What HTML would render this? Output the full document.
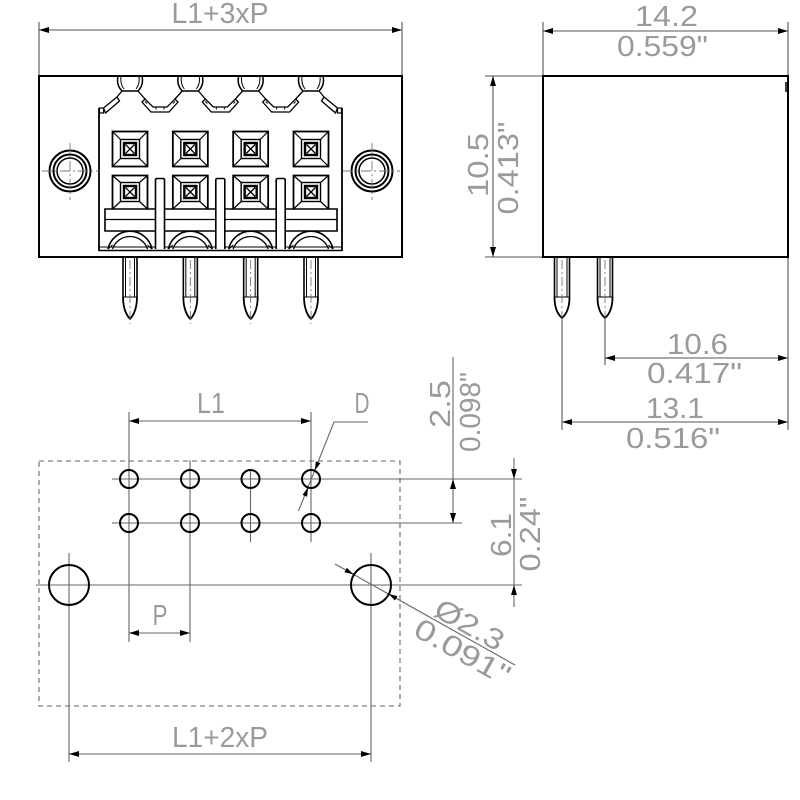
<!DOCTYPE html>
<html><head><meta charset="utf-8"><style>
html,body{margin:0;padding:0;background:#fff;}
svg{display:block;}
text{font-family:"Liberation Sans",sans-serif;font-size:29px;fill:#9a9a9a;}
</style></head><body>
<svg width="800" height="800" viewBox="0 0 800 800" xmlns="http://www.w3.org/2000/svg">
<defs>
<marker id="ar" viewBox="0 0 10 6" refX="10" refY="3" markerWidth="10" markerHeight="6" markerUnits="userSpaceOnUse" orient="auto-start-reverse"><path d="M0,0L10,3L0,6z" fill="#000"/></marker>
<g id="term" fill="none" stroke="#000">
  <rect x="112.5" y="131.5" width="35" height="35" stroke-width="1.8"/>
  <rect x="120.5" y="139.5" width="19" height="19" stroke-width="1.4"/>
  <rect x="124" y="143" width="12" height="12" stroke-width="2.4"/>
  <path d="M112.5,131.5L120.5,139.5M147.5,131.5L139.5,139.5M112.5,166.5L120.5,158.5M147.5,166.5L139.5,158.5" stroke-width="1.2"/>
  <path d="M125.5,144.5L134.5,153.5M134.5,144.5L125.5,153.5" stroke-width="1.3"/>
  <path d="M112.5,209V175.5H147.5V209" stroke-width="1.8"/>
  <rect x="120.5" y="182.5" width="19" height="19" stroke-width="1.4"/>
  <rect x="124" y="186" width="12" height="12" stroke-width="2.4"/>
  <path d="M112.5,175.5L120.5,182.5M147.5,175.5L139.5,182.5M112.5,209L120.5,201.5M147.5,209L139.5,201.5" stroke-width="1.2"/>
  <path d="M125.5,187.5L134.5,196.5M134.5,187.5L125.5,196.5" stroke-width="1.3"/>
  <path d="M108,249A22.5,22.5 0 0 1 152,249" stroke-width="1.6"/>
  <path d="M112.5,249A18.5,18.5 0 0 1 147.5,249" stroke-width="1.3"/>
  <path d="M108,249L112.5,245M152,249L147.5,245" stroke-width="1"/>
  <path d="M118,76Q116,85 122,91L138,91Q144,85 142,76" stroke-width="1.5"/>
  <path d="M121,76Q120,84 124,89M139,76Q140,84 136,89" stroke-width="1"/>
  <path d="M123,257V297M137,257V297" stroke-width="1.6"/>
  <path d="M125.5,257V297M134.5,257V297M123,297H137" stroke-width="1"/>
  <path d="M123,297C123,309 127,316 130,319C133,316 137,309 137,297" stroke-width="1.8"/>
  <path d="M130,260V324" stroke="#666" stroke-width="0.8" stroke-dasharray="9,3,2,3"/>
</g>
<g id="ushape" fill="none" stroke="#000" stroke-width="1.3">
  <path d="M138,91L145,99M175,99L182.3,91"/>
  <polygon points="145,99 153,107 167,107 175,99 178,102 169,112 151,112 142,102" fill="#fff"/>
  <path d="M147,103.5L145,101.5M173,103.5L175,101.5M156,109.5V107.5M164,109.5V107.5" stroke-width="1"/>
</g>
<g id="spin" fill="none" stroke="#000">
  <path d="M554.5,257V297M569.5,257V297" stroke-width="1.6"/>
  <path d="M557,257V297M567,257V297M554.5,297H569.5" stroke-width="1"/>
  <path d="M554.5,297C554.5,309 558.5,315 562,318C565.5,315 569.5,309 569.5,297" stroke-width="1.8"/>
  <path d="M562,260V322" stroke="#666" stroke-width="0.8" stroke-dasharray="9,3,2,3"/>
</g>
</defs>
<rect width="800" height="800" fill="#fff"/>

<g stroke="#555" stroke-width="1.1" fill="none">
  <path d="M39,22V76M402,22V76"/>
  <line x1="39" y1="30" x2="402" y2="30" marker-start="url(#ar)" marker-end="url(#ar)"/>
</g>
<text x="220" y="23" text-anchor="middle" textLength="97" lengthAdjust="spacingAndGlyphs">L1+3xP</text>

<rect x="39" y="76" width="363" height="181" fill="none" stroke="#000" stroke-width="2"/>
<g fill="none" stroke="#000">
  <path d="M99,108V251M342,108V251" stroke-width="1.8"/>
  <path d="M99,250.5H342" stroke-width="1.5"/>
  <path d="M99,247H342" stroke-width="1"/>
  <rect x="99.5" y="108" width="4" height="5" stroke-width="1.2"/>
  <path d="M122,91L117,97" stroke-width="1.3"/>
  <polygon points="103.5,108 117,97 119.5,101 105.5,113" fill="#fff" stroke-width="1.3"/>
  <rect x="337.5" y="108" width="4" height="5" stroke-width="1.2"/>
  <path d="M319,91L324,97" stroke-width="1.3"/>
  <polygon points="337.5,108 324,97 321.5,101 335.5,113" fill="#fff" stroke-width="1.3"/>
  <path d="M105,209H337V231H105Z" stroke-width="1.6"/>
  <path d="M105,219.5H337" stroke-width="1.2"/>
</g>
<use href="#term"/>
<use href="#term" x="60.33"/>
<use href="#term" x="120.67"/>
<use href="#term" x="181"/>
<use href="#ushape"/>
<use href="#ushape" x="60.33"/>
<use href="#ushape" x="120.67"/>
<g fill="#fff" stroke="#000" stroke-width="1.6">
  <path d="M155.5,249V180Q155.5,178.5 157,178.5H163Q164.5,178.5 164.5,180V249"/>
  <path d="M215.8,249V180Q215.8,178.5 217.3,178.5H223.3Q224.8,178.5 224.8,180V249"/>
  <path d="M276.2,249V180Q276.2,178.5 277.7,178.5H283.7Q285.2,178.5 285.2,180V249"/>
</g>
<g fill="none" stroke="#000">
  <circle cx="70" cy="171" r="20.5" stroke-width="2"/>
  <circle cx="70" cy="171" r="16.5" stroke-width="2"/>
  <circle cx="70" cy="171" r="13" stroke-width="1.5"/>
  <circle cx="372" cy="171" r="20.5" stroke-width="2"/>
  <circle cx="372" cy="171" r="16.5" stroke-width="2"/>
  <circle cx="372" cy="171" r="13" stroke-width="1.5"/>
</g>
<g stroke="#777" stroke-width="0.9" stroke-dasharray="10,3,2,3">
  <path d="M42,171H99M70,143V200M343,171H400M372,143V200"/>
</g>

<g stroke="#555" stroke-width="1.1" fill="none">
  <path d="M543,22V76M788,22V430"/>
  <line x1="543" y1="31" x2="788" y2="31" marker-start="url(#ar)" marker-end="url(#ar)"/>
  <path d="M485,76H543M485,257H543"/>
  <line x1="493" y1="76" x2="493" y2="257" marker-start="url(#ar)" marker-end="url(#ar)"/>
  <path d="M605,318V365M562,318V430"/>
  <line x1="605" y1="358" x2="788" y2="358" marker-start="url(#ar)" marker-end="url(#ar)"/>
  <line x1="562" y1="422" x2="788" y2="422" marker-start="url(#ar)" marker-end="url(#ar)"/>
</g>
<rect x="543" y="76" width="245" height="181" fill="none" stroke="#000" stroke-width="2"/>
<path d="M786,82V92" stroke="#000" stroke-width="1.5"/>
<use href="#spin"/>
<use href="#spin" x="43"/>
<text x="666.5" y="26" text-anchor="middle" textLength="63" lengthAdjust="spacingAndGlyphs">14.2</text>
<text x="662.5" y="56" text-anchor="middle" textLength="91" lengthAdjust="spacingAndGlyphs">0.559"</text>
<text transform="translate(488,165) rotate(-90)" x="0" y="0" text-anchor="middle" textLength="64" lengthAdjust="spacingAndGlyphs">10.5</text>
<text transform="translate(518,168) rotate(-90)" x="0" y="0" text-anchor="middle" textLength="93" lengthAdjust="spacingAndGlyphs">0.413"</text>
<text x="697.5" y="354" text-anchor="middle" textLength="61" lengthAdjust="spacingAndGlyphs">10.6</text>
<text x="694.5" y="383" text-anchor="middle" textLength="95" lengthAdjust="spacingAndGlyphs">0.417"</text>
<text x="675" y="418" text-anchor="middle" textLength="58" lengthAdjust="spacingAndGlyphs">13.1</text>
<text x="673" y="448" text-anchor="middle" textLength="94" lengthAdjust="spacingAndGlyphs">0.516"</text>

<rect x="39" y="461" width="361" height="245" fill="none" stroke="#666" stroke-width="1.1" stroke-dasharray="5,4"/>
<g stroke="#666" stroke-width="1.1" fill="none">
  <path d="M112,479H522M112,523H462"/>
  <path d="M129,412V642M190,460V642M250.5,470V542M311,412V542"/>
  <path d="M36,585H522"/>
  <path d="M69,553V762M371,553V762"/>
  <line x1="129" y1="421" x2="311" y2="421" marker-start="url(#ar)" marker-end="url(#ar)"/>
  <line x1="129" y1="633" x2="190" y2="633" marker-start="url(#ar)" marker-end="url(#ar)"/>
  <line x1="69" y1="754" x2="371" y2="754" marker-start="url(#ar)" marker-end="url(#ar)"/>
  <path d="M453,357V479"/>
  <line x1="453" y1="479" x2="453" y2="523" marker-start="url(#ar)" marker-end="url(#ar)"/>
  <path d="M514,479V585"/>
  <line x1="514" y1="458" x2="514" y2="479" marker-end="url(#ar)"/>
  <line x1="514" y1="607" x2="514" y2="585" marker-end="url(#ar)"/>
  <path d="M368,422H334L298.5,511"/>
  <path d="M335,564L515,665"/>
</g>
<g fill="#000">
  <polygon points="314.8,470.6 315.8,461.3 320.4,463.1"/>
  <polygon points="308.1,487.4 307.1,496.7 302.5,494.9"/>
  <polygon points="353.5,574.4 344.4,572.2 346.9,567.8"/>
  <polygon points="388.4,593.9 397.5,596.1 395.0,600.5"/>
</g>
<g fill="none" stroke="#000" stroke-width="2">
  <circle cx="129" cy="479" r="9"/>
  <circle cx="190" cy="479" r="9"/>
  <circle cx="250.5" cy="479" r="9"/>
  <circle cx="311" cy="479" r="9"/>
  <circle cx="129" cy="523" r="9"/>
  <circle cx="190" cy="523" r="9"/>
  <circle cx="250.5" cy="523" r="9"/>
  <circle cx="311" cy="523" r="9"/>
  <circle cx="69" cy="585" r="20"/>
  <circle cx="371" cy="585" r="20"/>
</g>
<text x="211" y="413" text-anchor="middle" textLength="28" lengthAdjust="spacingAndGlyphs">L1</text>
<text x="362" y="413" text-anchor="middle" textLength="15" lengthAdjust="spacingAndGlyphs">D</text>
<text x="160" y="625" text-anchor="middle" textLength="15" lengthAdjust="spacingAndGlyphs">P</text>
<text x="220" y="747" text-anchor="middle" textLength="96" lengthAdjust="spacingAndGlyphs">L1+2xP</text>
<text transform="translate(450,404) rotate(-90)" x="0" y="0" text-anchor="middle" textLength="48" lengthAdjust="spacingAndGlyphs">2.5</text>
<text transform="translate(480,412) rotate(-90)" x="0" y="0" text-anchor="middle" textLength="80" lengthAdjust="spacingAndGlyphs">0.098"</text>
<text transform="translate(511,535) rotate(-90)" x="0" y="0" text-anchor="middle" textLength="44" lengthAdjust="spacingAndGlyphs">6.1</text>
<text transform="translate(540,534) rotate(-90)" x="0" y="0" text-anchor="middle" textLength="75" lengthAdjust="spacingAndGlyphs">0.24"</text>
<g transform="translate(335,564) rotate(29.3)">
  <text x="147" y="-3" text-anchor="middle" textLength="75" lengthAdjust="spacingAndGlyphs">Ø2.3</text>
  <text x="154" y="24" text-anchor="middle" textLength="105" lengthAdjust="spacingAndGlyphs">0.091"</text>
</g>
</svg>
</body></html>
